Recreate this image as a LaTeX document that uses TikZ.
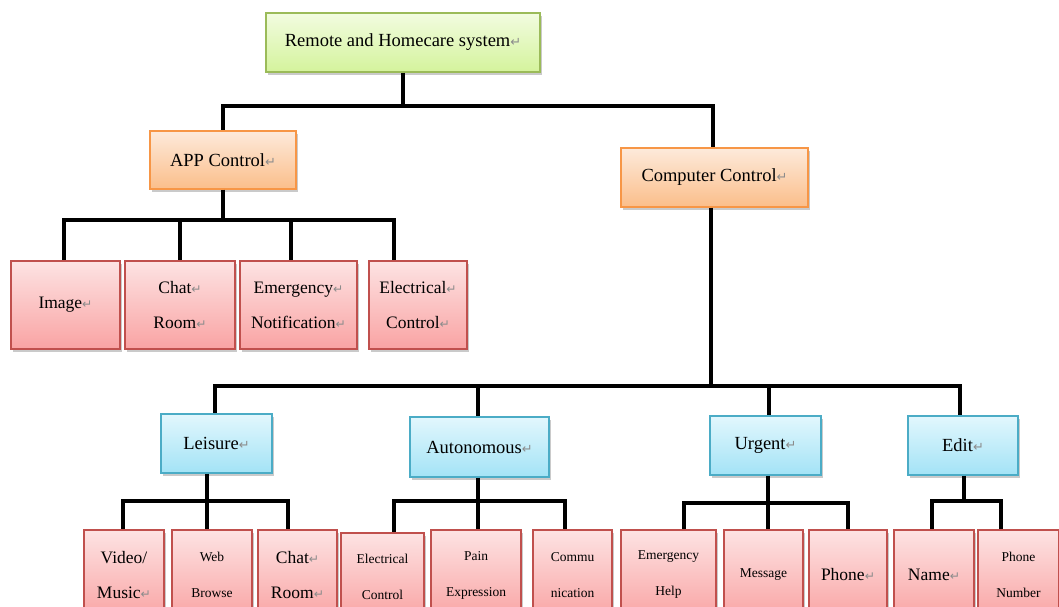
\documentclass[tikz,border=0pt]{standalone}
\usepackage{fontspec}
\usepackage{graphicx}
\setmainfont{Liberation Serif}
\newfontfamily\symfont{DejaVu Sans}
\usetikzlibrary{shadows}
\definecolor{grnT}{HTML}{F2FCE0}
\definecolor{grnB}{HTML}{D4F39C}
\definecolor{grnD}{HTML}{9BBB59}
\definecolor{orgT}{HTML}{FDEADB}
\definecolor{orgB}{HTML}{FBBE8A}
\definecolor{orgD}{HTML}{F79646}
\definecolor{bluT}{HTML}{E2F7FD}
\definecolor{bluB}{HTML}{A3E3F6}
\definecolor{bluD}{HTML}{4BACC6}
\definecolor{pnkT}{HTML}{FDE3E3}
\definecolor{pnkB}{HTML}{F9A3A3}
\definecolor{pnkD}{HTML}{C0504D}
\newcommand\parmk{{\symfont\color{black!45}\scalebox{0.7}{↵}}}
\tikzset{
  boxbase/.style={draw, line width=1.2pt, inner sep=2pt, align=center,
    drop shadow={shadow xshift=2pt, shadow yshift=-2.5pt, opacity=0.35, fill=black!60}},
  greenbox/.style={boxbase, draw=grnD, top color=grnT, bottom color=grnB, font=\fontsize{18.5}{22}\selectfont},
  orangebox/.style={boxbase, draw=orgD, top color=orgT, bottom color=orgB, font=\fontsize{18.5}{22}\selectfont},
  bluebox/.style={boxbase, draw=bluD, top color=bluT, bottom color=bluB, font=\fontsize{18.5}{22}\selectfont},
  pinkbox/.style={boxbase, draw=pnkD, top color=pnkT, bottom color=pnkB, font=\fontsize{17.5}{35}\selectfont},
  pinksmall/.style={pinkbox, font=\fontsize{13.5}{36}\selectfont},
  conn/.style={line width=4pt, black},
}
\begin{document}
\begin{tikzpicture}[x=1pt, y=-1pt]
\useasboundingbox (0,0) rectangle (1059,606);
\clip (0,0) rectangle (1059,606);
% level 0/1
\node[greenbox, minimum width=274, minimum height=59] (root) at (403,42.5) {Remote and Homecare system\parmk};
\node[orangebox, minimum width=146, minimum height=58] (app) at (223,160) {APP Control\parmk};
\node[orangebox, minimum width=187, minimum height=59] (cc) at (714.5,177.5) {Computer Control\parmk};
% APP children
\node[pinkbox, minimum width=109, minimum height=88] (img) at (65.5,305) {Image\parmk};
\node[pinkbox, minimum width=110, minimum height=88] (chat1) at (180,305) {Chat\parmk\\Room\parmk};
\node[pinkbox, minimum width=117, minimum height=88] (emn) at (298.5,305) {Emergency\parmk\\Notification\parmk};
\node[pinkbox, minimum width=98, minimum height=88] (elc1) at (418,305) {Electrical\parmk\\Control\parmk};
% Computer children
\node[bluebox, minimum width=111, minimum height=59] (lei) at (216.5,443.5) {Leisure\parmk};
\node[bluebox, minimum width=139, minimum height=60] (auto) at (479.5,447) {Autonomous\parmk};
\node[bluebox, minimum width=111, minimum height=59] (ua) at (765.5,445.5) {Urgent\parmk};
\node[bluebox, minimum width=110, minimum height=59] (edit) at (963,445.5) {Edit\parmk};
% bottom row
\node[pinkbox, minimum width=80, minimum height=90] (vm) at (124,575) {Video/\\Music\parmk};
\node[pinksmall, minimum width=80, minimum height=90] (wb) at (212,575) {Web\\Browse};
\node[pinkbox, minimum width=79, minimum height=90] (chat2) at (297.5,575) {Chat\parmk\\Room\parmk};
\node[pinksmall, minimum width=83, minimum height=87] (elc2) at (382.5,576.5) {Electrical\\Control};
\node[pinksmall, minimum width=90, minimum height=90] (pe) at (476,575) {Pain\\Expression};
\node[pinksmall, minimum width=79, minimum height=90] (com) at (572.5,575) {Commu\\nication};
\node[pinksmall, minimum width=95, minimum height=90] (eh) at (668.5,575) {Emergency\\Help};
\node[pinksmall, minimum width=79, minimum height=90] (msg) at (763.5,575) {Message};
\node[pinkbox, minimum width=78, minimum height=90] (ph) at (848,575) {Phone\parmk};
\node[pinkbox, minimum width=80, minimum height=90] (nm) at (934,575) {Name\parmk};
\node[pinksmall, minimum width=81, minimum height=90] (pn) at (1018.5,575) {Phone\\Number};
% junctions
\coordinate (j0) at (403,106);
\coordinate (ja) at (223,220);
\coordinate (j2) at (711,386);
\coordinate (jl) at (207,501);
\coordinate (jau) at (478,501);
\coordinate (jur) at (768,503);
\coordinate (jed) at (964,501);
% connectors
\draw[conn] (root.south) -- (j0);
\draw[conn] (j0) -| (app.north);
\draw[conn] (j0) -| ([xshift=-2pt]cc.north);
\draw[conn] (app.south) -- (ja);
\draw[conn] (ja) -| ([xshift=-2pt]img.north);
\draw[conn] (ja) -| (chat1.north);
\draw[conn] (ja) -| ([xshift=-8pt]emn.north);
\draw[conn] (ja) -| ([xshift=-24pt]elc1.north);
\draw[conn] ([xshift=-3.5pt]cc.south) -- (j2);
\draw[conn] (j2) -| ([xshift=-1.5pt]lei.north);
\draw[conn] (j2) -| ([xshift=-1.5pt]auto.north);
\draw[conn] (j2) -| ([xshift=3.5pt]ua.north);
\draw[conn] (j2) -| ([xshift=-3pt]edit.north);
\draw[conn] ([xshift=-9.5pt]lei.south) -- (jl);
\draw[conn] (jl) -| ([xshift=-1pt]vm.north);
\draw[conn] (jl) -| ([xshift=-5pt]wb.north);
\draw[conn] (jl) -| ([xshift=-9.5pt]chat2.north);
\draw[conn] ([xshift=-1.5pt]auto.south) -- (jau);
\draw[conn] (jau) -| ([xshift=11.5pt]elc2.north);
\draw[conn] (jau) -| ([xshift=2pt]pe.north);
\draw[conn] (jau) -| ([xshift=-7.5pt]com.north);
\draw[conn] ([xshift=2.5pt]ua.south) -- (jur);
\draw[conn] (jur) -| ([xshift=15.5pt]eh.north);
\draw[conn] (jur) -| ([xshift=4.5pt]msg.north);
\draw[conn] (jur) -| (ph.north);
\draw[conn] ([xshift=1pt]edit.south) -- (jed);
\draw[conn] (jed) -| ([xshift=-2pt]nm.north);
\draw[conn] (jed) -| ([xshift=-17.5pt]pn.north);
\end{tikzpicture}
\end{document}
